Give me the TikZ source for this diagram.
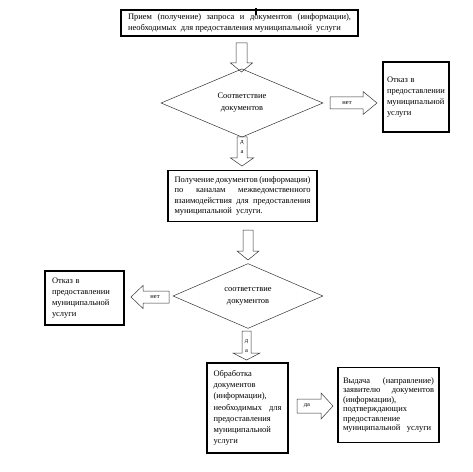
\documentclass[tikz,border=0pt]{standalone}
\usepackage{fontspec}
\setmainfont{Liberation Serif}
\usetikzlibrary{shapes.geometric}
\tolerance=10000
\hyphenpenalty=10000
\newcommand\bdown[6]{\draw[barrow] (#1-#3,#2) -- (#1+#3,#2) -- (#1+#3,#5) -- (#1+#4,#5) -- (#1,#6) -- (#1-#4,#5) -- (#1-#3,#5) -- cycle;}
\newcommand\bhor[6]{\draw[barrow] (#2,#1-#3) -- (#5,#1-#3) -- (#5,#1-#4) -- (#6,#1) -- (#5,#1+#4) -- (#5,#1+#3) -- (#2,#1+#3) -- cycle;}
\tikzset{
  box/.style={draw=black, line width=1.1bp, inner sep=0pt, align=justify,
    font=\fontsize{8.5}{10.5}\selectfont},
  rbox/.style={draw=black, line width=1.1bp, inner sep=0pt, align=left,
    font=\fontsize{8.5}{11}\selectfont},
  dia/.style={draw=black!80, line width=0.5bp, diamond, inner sep=0pt, align=center,
    font=\fontsize{8.5}{12}\selectfont},
  barrow/.style={draw=black!80, line width=0.5bp},
  lbl/.style={inner sep=0pt, font=\fontsize{6.5}{7}\selectfont},
}
\begin{document}
\begin{tikzpicture}[x=1bp,y=-1bp]
\useasboundingbox (0,0) rectangle (473,472);
% boxes
\node[box, minimum width=237bp, minimum height=26bp, text width=223bp] (b1) at (239.5,23)
  {Прием (получение) запроса и документов (информации),\linebreak необходимых\ \ для предоставления муниципальной\ \ услуги};
\coordinate (tick) at (256,8);
\draw[line width=1.1bp] (tick) -- ++(0,7);
\node[dia, minimum width=162bp, minimum height=53bp] (d1) at (242,103) {Соответствие\\документов};
\node[rbox, minimum width=66bp, minimum height=70bp, text width=58bp] (r1) at (416,97)
  {Отказ в\\предоставлении\\муниципальной\\услуги};
\node[box, minimum width=149bp, minimum height=51bp, text width=136bp] (b2) at (242.5,196)
  {Получение документов (информации)\linebreak по каналам межведомственного\linebreak взаимодействия для предоставления\linebreak муниципальной\ \ услуги.};
\node[dia, minimum width=150bp, minimum height=59bp] (d2) at (248,296) {соответствие\\документов};
\node[rbox, minimum width=79bp, minimum height=54bp, text width=65bp] (r2) at (84.5,298)
  {Отказ в\\предоставлении\\муниципальной\\услуги};
\node[box, minimum width=81bp, minimum height=90bp, text width=68bp, font=\fontsize{8.5}{11.2}\selectfont] (b3) at (247.5,408)
  {Обработка\\документов\\(информации),\\необходимых\hfill для\\предоставления\\муниципальной\\услуги};
\node[box, minimum width=101bp, minimum height=75bp, text width=91bp, font=\fontsize{8.5}{9.6}\selectfont] (b4) at (388.5,405)
  {Выдача\hfill(направление)\\заявителю\hfill документов\\(информации),\\подтверждающих\\предоставление\\муниципальной\ \ \ услуги};
% block arrows
\bdown{241.5}{43}{5.5}{11}{63}{72}
\bdown{242}{137}{5}{11.5}{158}{166}
\bdown{248}{230}{5}{11}{251}{260}
\bdown{246.5}{331}{4.5}{13.5}{353}{360}
\bhor{103}{330}{6}{11.5}{363}{377}
\bhor{297}{169}{6}{11.5}{143}{131}
\bhor{406}{297}{7}{13}{321}{333}
% arrow labels
\node[lbl] (n1) at (347,103) {нет};
\node[lbl] (n2) at (155,297) {нет};
\node[lbl] (y3) at (307,406) {да};
\node[lbl] (y1a) at (242,143) {д};
\node[lbl] (y1b) at (242,152) {а};
\node[lbl] (y2a) at (246.5,342) {д};
\node[lbl] (y2b) at (246.5,351) {а};
\end{tikzpicture}
\end{document}
